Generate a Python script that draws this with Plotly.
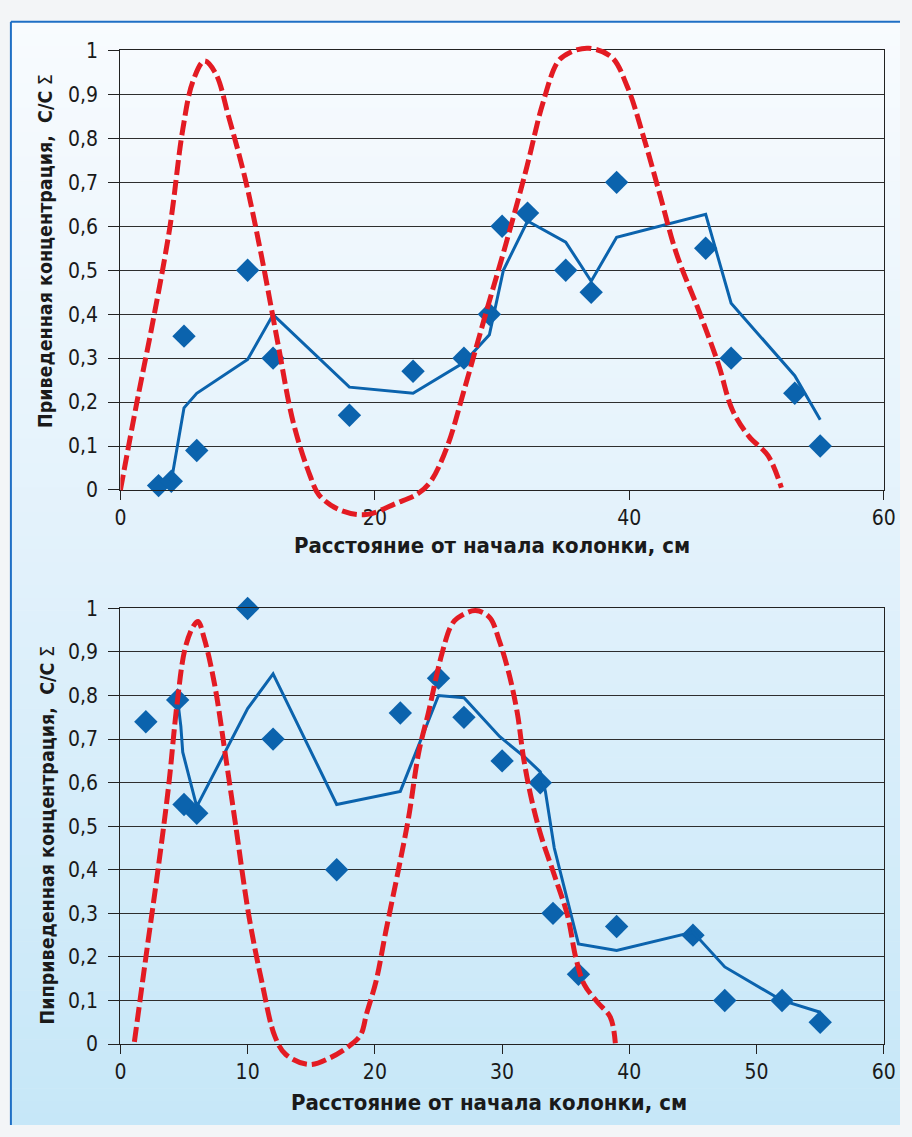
import plotly.graph_objects as go

# ---------------- data ----------------
# Upper chart
top_pts_x = [3, 4, 5, 6, 10, 12, 18, 23, 27, 29, 30, 32, 35, 37, 39, 46, 48, 53, 55]
top_pts_y = [0.01, 0.02, 0.35, 0.09, 0.5, 0.3, 0.17, 0.27, 0.3, 0.4, 0.6, 0.63, 0.5, 0.45, 0.7, 0.55, 0.3, 0.22, 0.1]

top_line_x = [4, 5, 6, 10, 12, 18, 23, 27, 29, 29.2, 30.1, 32, 35, 37, 39, 46, 48, 53, 55]
top_line_y = [0.02, 0.187, 0.22, 0.297, 0.399, 0.234, 0.22, 0.29, 0.353, 0.379, 0.5, 0.612, 0.564, 0.475, 0.575, 0.627, 0.425, 0.26, 0.16]

top_model_x = [0, 1.3, 2.6, 3.9, 4.9, 5.7, 6.6, 7.5, 8.5, 9.8, 11.05, 12.35, 13.6, 14.9, 15.6, 17.2, 19.3,
               21.7, 23.4, 24.4, 25.7, 27.0, 28.8, 30.3, 31.9, 33.2, 34.4, 35.3, 36.8, 38.6, 39.85, 41.1,
               42.4, 43.7, 45.5, 47.0, 48.1, 49.4, 50.9, 51.95]
top_model_y = [0, 0.2, 0.39, 0.6, 0.82, 0.93, 0.976, 0.947, 0.85, 0.709, 0.538, 0.338, 0.152, 0.033, -0.011,
               -0.045, -0.056, -0.03, -0.008, 0.02, 0.1, 0.226, 0.41, 0.56, 0.73, 0.88, 0.975, 0.995, 1.005,
               0.985, 0.917, 0.805, 0.672, 0.538, 0.405, 0.286, 0.182, 0.122, 0.078, 0.005]

# Lower chart
bot_pts_x = [2, 4.5, 5, 6, 10, 12, 17, 22, 25, 27, 30, 33, 34, 36, 39, 45, 47.5, 52, 55]
bot_pts_y = [0.74, 0.79, 0.55, 0.53, 1.0, 0.7, 0.4, 0.76, 0.84, 0.75, 0.65, 0.6, 0.3, 0.16, 0.27, 0.25, 0.1, 0.1, 0.05]

bot_line_x = [4.5, 4.75, 4.9, 6, 10, 12, 17, 22, 25, 27, 29.8, 31.8, 33, 33.4, 34.1, 36, 39, 45, 47.5, 52, 55]
bot_line_y = [0.79, 0.73, 0.67, 0.545, 0.77, 0.85, 0.55, 0.58, 0.8, 0.795, 0.706, 0.658, 0.625, 0.58, 0.45,
              0.23, 0.215, 0.257, 0.177, 0.1, 0.073]

bot_model_x = [1.1, 2.1, 3.0, 3.8, 4.45, 5.1, 5.75, 6.1, 6.6, 7.4, 8.3, 9.05, 10.1, 11.1, 12.15, 13.0, 14.8,
               16.45, 18.1, 18.9, 19.35, 20.1, 20.85, 21.9, 22.65, 23.45, 24.2, 25.25, 26.0, 26.5, 27.9, 29.0,
               29.8, 30.55, 31.2, 31.7, 32.35, 33.1, 34.15, 35.15, 35.8, 36.45, 37.5, 38.5, 38.9]
bot_model_y = [0.005, 0.22, 0.41, 0.595, 0.78, 0.91, 0.96, 0.97, 0.93, 0.826, 0.654, 0.504, 0.294, 0.145,
               0.017, -0.024, -0.047, -0.032, -0.002, 0.022, 0.07, 0.145, 0.257, 0.407, 0.52, 0.67, 0.76,
               0.894, 0.961, 0.978, 0.995, 0.98, 0.924, 0.849, 0.759, 0.654, 0.557, 0.474, 0.384, 0.294,
               0.197, 0.137, 0.096, 0.062, 0.002]

y_title_top = "<b>Приведенная концентрация,  C/C</b> Σ"
y_title_bot = "<b>Пиприведенная концентрация,  C/C</b> Σ"
x_title = "<b>Расстояние от начала колонки, см</b>"

# ---------------- layout geometry (pixels) ----------------
W, H = 912, 1137
BLUE = "#0b63ad"
RED = "#e31b23"
FONT = "Liberation Sans Narrow, DejaVu Sans Condensed, Arial Narrow, sans-serif"

def fx(px):
    return px / W

def fy(py):
    return 1 - py / H

X0, X1 = 116.7, 895.5
TOP_Y0, TOP_Y1 = 488.3, 39.3      # pixel of value 0 and value 1
BOT_Y0, BOT_Y1 = 1054.3, 609.3
EXT_LO, EXT_HI = -0.12, 1.04      # extended range for the model curve overlay

def ext_domain(py0, py1):
    s = py0 - py1
    return [fy(py0 - EXT_LO * s), fy(py1 - (EXT_HI - 1) * s)]

fig = go.Figure()

# markers + lines
fig.add_trace(go.Scatter(x=top_pts_x, y=top_pts_y, mode="markers", xaxis="x", yaxis="y",
                         marker=dict(symbol="diamond", size=18, color=BLUE), cliponaxis=False))
fig.add_trace(go.Scatter(x=top_line_x, y=top_line_y, mode="lines", xaxis="x", yaxis="y",
                         line=dict(color=BLUE, width=3)))
fig.add_trace(go.Scatter(x=bot_pts_x, y=bot_pts_y, mode="markers", xaxis="x2", yaxis="y2",
                         marker=dict(symbol="diamond", size=18, color=BLUE), cliponaxis=False))
fig.add_trace(go.Scatter(x=bot_line_x, y=bot_line_y, mode="lines", xaxis="x2", yaxis="y2",
                         line=dict(color=BLUE, width=3)))
# model curves on overlay axes (allowed to overflow the plot frame)
fig.add_trace(go.Scatter(x=top_model_x, y=top_model_y, mode="lines", xaxis="x3", yaxis="y3",
                         line=dict(color=RED, width=5, dash="15px,5px", shape="spline", smoothing=1.0)))
fig.add_trace(go.Scatter(x=bot_model_x, y=bot_model_y, mode="lines", xaxis="x4", yaxis="y4",
                         line=dict(color=RED, width=5, dash="15px,5px", shape="spline", smoothing=1.0)))

tickfont = dict(family=FONT, size=21, color="#1a1a1a")
common_x = dict(range=[0, 60], tick0=0, ticks="outside", ticklen=9, tickcolor="#222", tickwidth=1,
                showline=True, linecolor="#222", linewidth=1.2, mirror=True, showgrid=False,
                zeroline=False, tickfont=tickfont, domain=[fx(X0), fx(X1)])
common_y = dict(range=[0, 1], tick0=0, dtick=0.1, ticks="outside", ticklen=11, tickcolor="#222",
                tickwidth=1, showline=True, linecolor="#222", linewidth=1.2, mirror=True, showgrid=True,
                gridcolor="#2e2e2e", gridwidth=1.4, zeroline=False, tickfont=tickfont,
                ticklabelstandoff=6)

hidden = dict(visible=False, showgrid=False, zeroline=False, fixedrange=True)

fig.update_layout(
    width=W, height=H, margin=dict(l=0, r=0, t=0, b=0),
    paper_bgcolor="#f3f5f7", plot_bgcolor="rgba(0,0,0,0)",
    separators=", ", showlegend=False,
    xaxis=dict(common_x, dtick=20, anchor="y"),
    yaxis=dict(common_y, anchor="x", domain=[fy(TOP_Y0), fy(TOP_Y1)]),
    xaxis2=dict(common_x, dtick=10, anchor="y2"),
    yaxis2=dict(common_y, anchor="x2", domain=[fy(BOT_Y0), fy(BOT_Y1)]),
    xaxis3=dict(hidden, range=[0, 60], anchor="y3", domain=[fx(X0), fx(X1)]),
    yaxis3=dict(hidden, range=[EXT_LO, EXT_HI], anchor="x3", domain=ext_domain(TOP_Y0, TOP_Y1)),
    xaxis4=dict(hidden, range=[0, 60], anchor="y4", domain=[fx(X0), fx(X1)]),
    yaxis4=dict(hidden, range=[EXT_LO, EXT_HI], anchor="x4", domain=ext_domain(BOT_Y0, BOT_Y1)),
)

# background gradient panel with blue frame
shapes = []
top_c = (248, 251, 254)
mid_c = (225, 241, 251)
bot_c = (198, 231, 248)
n = 90
y_start, y_end = 10, H
for i in range(n):
    t = (i + 0.5) / n
    if t < 0.5:
        a, b, u = top_c, mid_c, t / 0.5
    else:
        a, b, u = mid_c, bot_c, (t - 0.5) / 0.5
    c = tuple(round(a[k] + (b[k] - a[k]) * u) for k in range(3))
    p0 = y_start + (y_end - y_start) * i / n
    p1 = y_start + (y_end - y_start) * (i + 1) / n + 0.6
    shapes.append(dict(type="rect", xref="paper", yref="paper", layer="below",
                       x0=fx(5), x1=1, y0=fy(min(p1, H)), y1=fy(p0),
                       fillcolor="rgb(%d,%d,%d)" % c, line=dict(width=0)))
shapes.append(dict(type="line", xref="paper", yref="paper", layer="below",
                   x0=fx(5), x1=1, y0=fy(10), y1=fy(10), line=dict(color="#1f6fc5", width=2)))
shapes.append(dict(type="line", xref="paper", yref="paper", layer="below",
                   x0=fx(5), x1=fx(5), y0=fy(10), y1=0, line=dict(color="#1f6fc5", width=2)))
fig.update_layout(shapes=shapes)

title_font = dict(family=FONT, size=22, color="#1a1a1a")
ytitle_font = dict(family=FONT, size=19.5, color="#1a1a1a")
fig.update_layout(annotations=[
    dict(text=x_title, xref="paper", yref="paper", x=fx(496), y=fy(545), showarrow=False,
         xanchor="center", yanchor="middle", font=title_font),
    dict(text=x_title, xref="paper", yref="paper", x=fx(493), y=fy(1114), showarrow=False,
         xanchor="center", yanchor="middle", font=title_font),
    dict(text=y_title_top, xref="paper", yref="paper", x=fx(41), y=fy(244), showarrow=False,
         textangle=-90, xanchor="center", yanchor="middle", font=ytitle_font),
    dict(text=y_title_bot, xref="paper", yref="paper", x=fx(42), y=fy(841), showarrow=False,
         textangle=-90, xanchor="center", yanchor="middle", font=ytitle_font),
])

fig.write_html("out.html")
